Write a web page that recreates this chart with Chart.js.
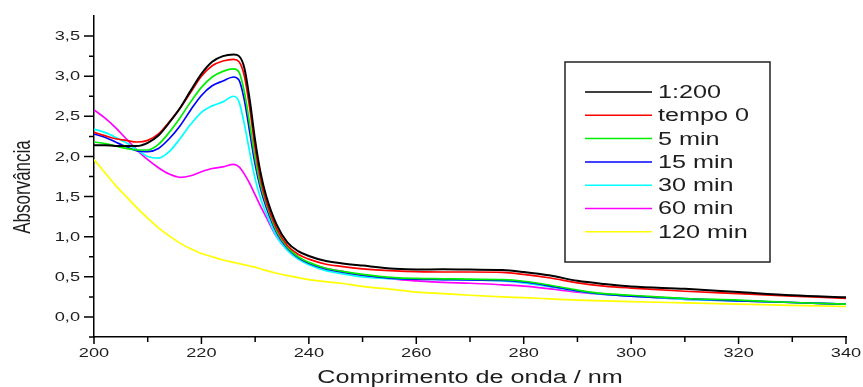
<!DOCTYPE html>
<html lang="pt">
<head>
    <meta charset="UTF-8">
    <title>Absorvância</title>
    <script src="https://cdn.jsdelivr.net/npm/chart.js"></script>
    <style>
        html, body { margin: 0; padding: 0; background: #fff; }
        #wrap { width: 863px; height: 387px; }
    </style>
</head>
<body>
    <div id="wrap"><canvas id="uvChart"></canvas></div>

    <script>
        // wavelength grid (nm)
        var wavelengths = [200, 202, 204, 206, 208, 210, 212, 214, 216, 218, 220, 222, 224, 226, 227, 228, 229, 230, 231, 232,
                           234, 236, 238, 240, 243, 246, 250, 256, 260, 265, 270, 276, 280, 285, 290, 295, 300, 310, 320, 330, 340];

        var seriesLabels = ['1:200', 'tempo 0', '5 min', '15 min', '30 min', '60 min', '120 min'];
        var seriesColors = ['#000000', '#ff0000', '#00ee00', '#0000ff', '#00ffff', '#ff00ff', '#ffff00'];

        var abs1_200 = [2.14, 2.14, 2.13, 2.13, 2.13, 2.17, 2.26, 2.42, 2.60, 2.82, 3.03, 3.18, 3.25, 3.27, 3.25, 3.10, 2.70, 2.20, 1.80, 1.52,
                        1.15, 0.93, 0.82, 0.76, 0.70, 0.67, 0.64, 0.60, 0.59, 0.595, 0.59, 0.585, 0.56, 0.515, 0.45, 0.41, 0.38, 0.35, 0.31, 0.27, 0.245];
        var absTempo0 = [2.30, 2.26, 2.22, 2.20, 2.18, 2.20, 2.28, 2.43, 2.60, 2.80, 3.00, 3.13, 3.19, 3.21, 3.18, 3.00, 2.60, 2.10, 1.72, 1.45,
                         1.10, 0.89, 0.78, 0.72, 0.66, 0.63, 0.60, 0.575, 0.565, 0.56, 0.56, 0.555, 0.53, 0.485, 0.425, 0.385, 0.36, 0.32, 0.29, 0.26, 0.23];
        var abs5min = [2.18, 2.16, 2.13, 2.10, 2.08, 2.08, 2.15, 2.30, 2.48, 2.68, 2.86, 2.99, 3.06, 3.09, 3.05, 2.80, 2.40, 1.98, 1.65, 1.42,
                       1.07, 0.87, 0.75, 0.68, 0.61, 0.57, 0.53, 0.49, 0.48, 0.475, 0.47, 0.465, 0.445, 0.395, 0.335, 0.29, 0.27, 0.23, 0.21, 0.18, 0.16];
        var abs15min = [2.28, 2.24, 2.18, 2.12, 2.07, 2.06, 2.10, 2.22, 2.38, 2.58, 2.76, 2.88, 2.94, 2.99, 2.95, 2.70, 2.30, 1.90, 1.60, 1.38,
                        1.05, 0.86, 0.74, 0.67, 0.60, 0.56, 0.52, 0.48, 0.47, 0.465, 0.46, 0.455, 0.435, 0.385, 0.325, 0.285, 0.26, 0.23, 0.20, 0.18, 0.16];
        var abs30min = [2.34, 2.30, 2.24, 2.17, 2.08, 2.00, 1.98, 2.06, 2.22, 2.40, 2.55, 2.63, 2.68, 2.75, 2.68, 2.40, 2.05, 1.72, 1.48, 1.30,
                        1.00, 0.83, 0.72, 0.65, 0.58, 0.54, 0.50, 0.475, 0.47, 0.465, 0.46, 0.45, 0.425, 0.375, 0.32, 0.28, 0.26, 0.22, 0.20, 0.18, 0.16];
        var abs60min = [2.58, 2.48, 2.36, 2.22, 2.08, 1.96, 1.86, 1.78, 1.74, 1.76, 1.81, 1.85, 1.87, 1.90, 1.87, 1.78, 1.66, 1.52, 1.38, 1.25,
                        1.00, 0.84, 0.74, 0.67, 0.61, 0.57, 0.52, 0.47, 0.45, 0.43, 0.42, 0.40, 0.385, 0.35, 0.31, 0.28, 0.26, 0.22, 0.20, 0.18, 0.16];
        var abs120min = [1.96, 1.80, 1.64, 1.50, 1.36, 1.23, 1.11, 1.01, 0.92, 0.85, 0.79, 0.75, 0.71, 0.68, 0.665, 0.65, 0.635, 0.62, 0.60, 0.58,
                         0.545, 0.515, 0.49, 0.465, 0.44, 0.42, 0.38, 0.34, 0.31, 0.29, 0.27, 0.25, 0.24, 0.225, 0.21, 0.20, 0.19, 0.175, 0.16, 0.145, 0.13];

        var allSeries = [abs1_200, absTempo0, abs5min, abs15min, abs30min, abs60min, abs120min];

        // axis ticks
        var xMajorTicks = [200, 220, 240, 260, 280, 300, 320, 340];
        var xMinorTicks = [210, 230, 250, 270, 290, 310, 330];
        var yMajorTicks = [0, 0.5, 1.0, 1.5, 2.0, 2.5, 3.0, 3.5];
        var yMinorTicks = [-0.25, 0.25, 0.75, 1.25, 1.75, 2.25, 2.75, 3.25];

        var xTitle = 'Comprimento de onda / nm';
        var yTitle = 'Absorvância';

        var FONT = "'Liberation Sans', Arial, sans-serif";
        var STRETCH = 1.4;   // the original figure's text is drawn wide
        var TEXT = '#1e1e1e';

        var datasets = allSeries.map(function (vals, i) {
            return {
                label: seriesLabels[i],
                data: vals.map(function (v, j) { return { x: wavelengths[j], y: v }; }),
                borderColor: seriesColors[i],
                borderWidth: i === 0 ? 2 : 1.7,
                pointRadius: 0,
                fill: false,
                cubicInterpolationMode: 'monotone'
            };
        });

        // text drawn with horizontal stretch
        function wideText(ctx, txt, x, y, align, size) {
            ctx.save();
            ctx.translate(x, y);
            ctx.scale(STRETCH, 1);
            ctx.font = size + 'px ' + FONT;
            ctx.textAlign = align;
            ctx.textBaseline = 'middle';
            ctx.fillStyle = TEXT;
            ctx.fillText(txt, 0, 0);
            ctx.restore();
        }

        function fmt(v) { return v.toFixed(1).replace('.', ','); }

        // tick marks, tick labels and axis titles
        var axisDeco = {
            id: 'axisDeco',
            afterDraw: function (chart) {
                var ctx = chart.ctx, a = chart.chartArea;
                var xs = chart.scales.x, ys = chart.scales.y;
                ctx.save();
                ctx.strokeStyle = '#000';
                ctx.lineWidth = 1.5;
                ctx.beginPath();
                yMajorTicks.forEach(function (v) { var p = ys.getPixelForValue(v); ctx.moveTo(a.left - 10, p); ctx.lineTo(a.left, p); });
                yMinorTicks.forEach(function (v) { var p = ys.getPixelForValue(v); ctx.moveTo(a.left - 5, p); ctx.lineTo(a.left, p); });
                xMajorTicks.forEach(function (v) { var p = xs.getPixelForValue(v); ctx.moveTo(p, a.bottom); ctx.lineTo(p, a.bottom + 7); });
                xMinorTicks.forEach(function (v) { var p = xs.getPixelForValue(v); ctx.moveTo(p, a.bottom); ctx.lineTo(p, a.bottom + 5); });
                ctx.stroke();
                ctx.restore();

                yMajorTicks.forEach(function (v) { wideText(ctx, fmt(v), a.left - 14, ys.getPixelForValue(v) + 0.5, 'right', 13); });
                xMajorTicks.forEach(function (v) { wideText(ctx, String(v), xs.getPixelForValue(v), a.bottom + 16, 'center', 13); });

                wideText(ctx, xTitle, (a.left + a.right) / 2, 378, 'center', 18);

                // vertical title: rotated, stretched across its thickness
                ctx.save();
                ctx.translate(23, 187);
                ctx.rotate(-Math.PI / 2);
                ctx.scale(1, STRETCH);
                ctx.font = '17px ' + FONT;
                ctx.textAlign = 'center';
                ctx.textBaseline = 'middle';
                ctx.fillStyle = TEXT;
                ctx.fillText(yTitle, 0, 0);
                ctx.restore();
            }
        };

        // boxed legend inside the plot
        var boxLegend = {
            id: 'boxLegend',
            afterDraw: function (chart) {
                var ctx = chart.ctx;
                var bx = 565, by = 62, bw = 205, bh = 200;
                ctx.save();
                ctx.strokeStyle = '#222';
                ctx.lineWidth = 1.5;
                ctx.strokeRect(bx, by, bw, bh);
                chart.data.datasets.forEach(function (ds, i) {
                    var y = by + 30 + i * 23.3;
                    ctx.strokeStyle = ds.borderColor;
                    ctx.lineWidth = 1.5;
                    ctx.beginPath();
                    ctx.moveTo(bx + 20, y);
                    ctx.lineTo(bx + 87, y);
                    ctx.stroke();
                    wideText(ctx, ds.label, bx + 93, y + 1, 'left', 18);
                });
                ctx.restore();
            }
        };

        new Chart(document.getElementById('uvChart'), {
            type: 'line',
            data: { datasets: datasets },
            plugins: [axisDeco, boxLegend],
            options: {
                responsive: true,
                maintainAspectRatio: false,
                animation: false,
                events: [],
                layout: { padding: { top: 16, right: 17, left: 0, bottom: 0 } },
                plugins: {
                    legend: { display: false },
                    tooltip: { enabled: false }
                },
                scales: {
                    x: {
                        type: 'linear',
                        min: 200,
                        max: 340,
                        grid: { display: false },
                        border: { display: true, color: '#000', width: 1.5 },
                        ticks: { display: false },
                        afterFit: function (s) { s.height = 50; }
                    },
                    y: {
                        type: 'linear',
                        min: -0.25,
                        max: 3.75,
                        grid: { display: false },
                        border: { display: true, color: '#000', width: 1.5 },
                        ticks: { display: false },
                        afterFit: function (s) { s.width = 94; }
                    }
                }
            }
        });
    </script>
</body>
</html>
